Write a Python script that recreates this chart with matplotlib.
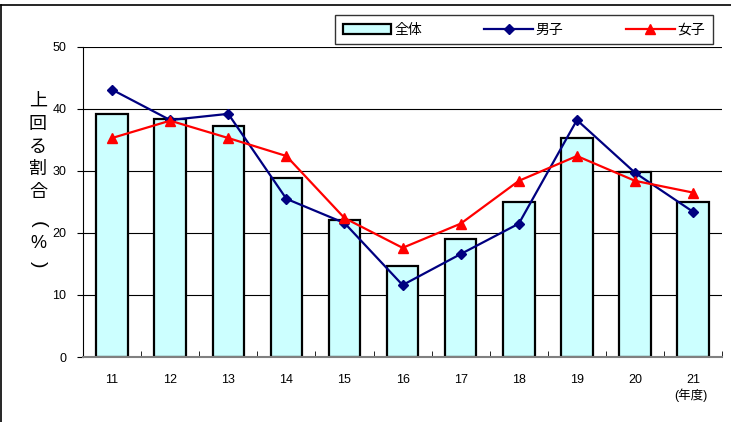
import numpy as np
import matplotlib.pyplot as plt
from matplotlib.lines import Line2D

plt.rcParams['font.family'] = ['Liberation Sans', 'Noto Sans CJK JP']

years = ['11', '12', '13', '14', '15', '16', '17', '18', '19', '20', '21']
zentai = [39.2, 38.4, 37.3, 28.9, 22.1, 14.7, 19.0, 25.0, 35.3, 29.8, 25.0]
danshi = [43.1, 38.2, 39.2, 25.5, 21.6, 11.6, 16.6, 21.5, 38.2, 29.7, 23.4]
joshi = [35.3, 38.1, 35.3, 32.4, 22.4, 17.6, 21.5, 28.4, 32.4, 28.4, 26.5]

fig = plt.figure(figsize=(7.31, 4.22), dpi=100)
ax = fig.add_axes([0.1135, 0.154, 0.8745, 0.735])

x = np.arange(len(years))
b = ax.bar(x, zentai, width=0.54, color='#CCFFFF', edgecolor='black', linewidth=1.6,
           label='全体', zorder=2)
l1, = ax.plot(x, danshi, color='#000080', marker='D', markersize=5, linewidth=1.6,
              label='男子', zorder=3)
l2, = ax.plot(x, joshi, color='#FF0000', marker='^', markersize=7, linewidth=1.6,
              label='女子', zorder=3)

ax.set_xlim(-0.5, len(years) - 0.5)
ax.set_ylim(0, 50)
ax.set_yticks(range(0, 51, 10))
ax.yaxis.grid(True, color='black', linewidth=0.8)
ax.set_axisbelow(True)
ax.set_xticks(x)
ax.set_xticklabels(years, fontsize=9)
ax.tick_params(axis='x', length=0, pad=12)
ax.set_xticks(np.arange(-0.5, len(years)), minor=True)
ax.tick_params(axis='x', which='minor', length=4, direction='in', color='black')
ax.tick_params(axis='y', labelsize=9, length=4, pad=8)
for s in ['top', 'right']:
    ax.spines[s].set_visible(False)
ax.spines['bottom'].set_color('#808080')
ax.spines['bottom'].set_linewidth(1.5)
ax.spines['left'].set_linewidth(0.8)

fig.text(0.945, 0.055, '(年度)', fontsize=9, ha='center')

# vertical y-axis label, one character per line
ylab = ['上', '回', 'る', '割', '合']
ypos = [101, 124, 147, 169, 192]
for ch, yp in zip(ylab, ypos):
    fig.text(38 / 731, 1 - yp / 422, ch, fontsize=13, ha='center', va='center',
             family=['Noto Sans CJK JP', 'DejaVu Sans'])
# parentheses turned sideways, with % between them
fig.text(38 / 731, 1 - 224 / 422, '(', fontsize=14, rotation=-90, ha='center', va='center')
fig.text(38 / 731, 1 - 244 / 422, '%', fontsize=13, ha='center', va='center')
fig.text(38 / 731, 1 - 264 / 422, ')', fontsize=14, rotation=-90, ha='center', va='center')

leg = fig.legend([b, l1, l2], ['全体', '男子', '女子'], loc='upper left',
                 bbox_to_anchor=(335 / 731, 1 - 15 / 422),
                 ncol=3, fontsize=10, frameon=True, fancybox=False,
                 edgecolor='black', handlelength=3.5, columnspacing=4.5,
                 borderpad=0.55, handleheight=0.8, handletextpad=0.2,
                 borderaxespad=0)
leg.get_frame().set_linewidth(1.0)

fig.add_artist(Line2D([0.001, 0.001], [0, 1 - 5 / 422], transform=fig.transFigure,
                      color='black', linewidth=1.2))
fig.add_artist(Line2D([0.001, 1], [1 - 5 / 422, 1 - 5 / 422], transform=fig.transFigure,
                      color='black', linewidth=1.2))

fig.savefig('out.png', dpi=100)
